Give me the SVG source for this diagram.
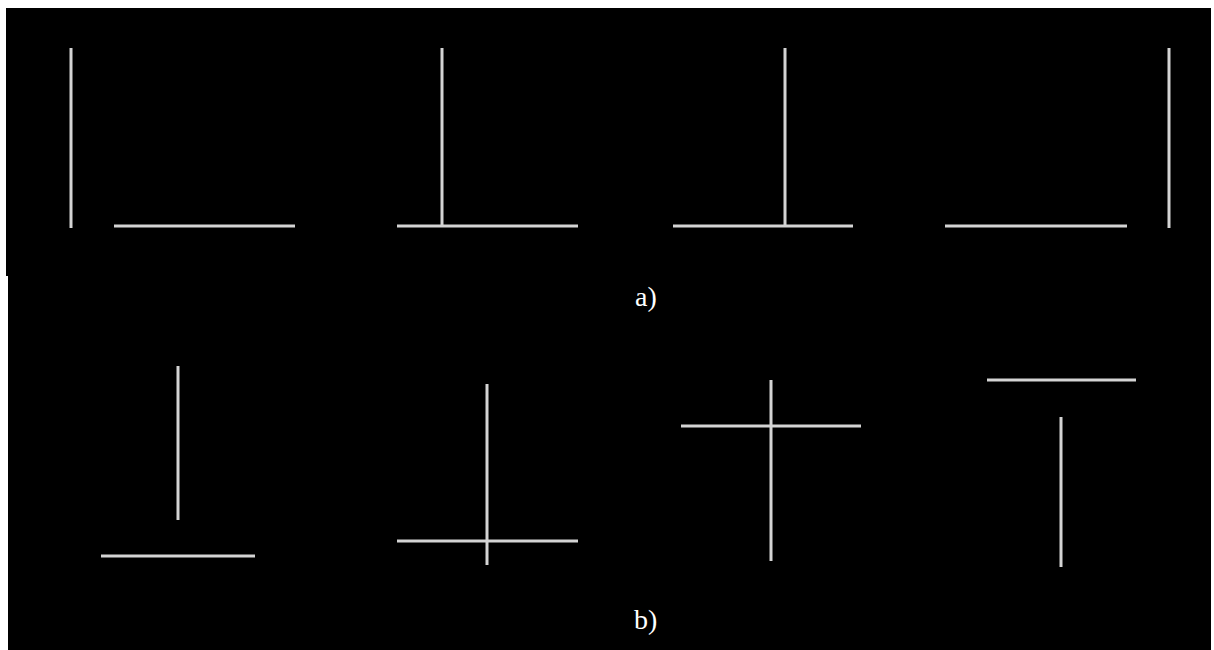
<svg xmlns="http://www.w3.org/2000/svg" width="1214" height="650" viewBox="0 0 1214 650">
<style>
.ln{stroke:#d4d4d4;stroke-width:3;fill:none}
.lbl{font-family:"Liberation Serif",serif;font-size:28px;fill:#ffffff}
</style>
<rect x="0" y="0" width="1214" height="650" fill="#ffffff"/>
<rect x="6" y="8" width="1205" height="268" fill="#000000"/>
<rect x="8" y="275" width="1203" height="375" fill="#000000"/>
<g id="connectors">
<g id="a1"><line class="ln" x1="71" y1="48" x2="71" y2="228"/><line class="ln" x1="114" y1="226" x2="295" y2="226"/></g>
<g id="a2"><line class="ln" x1="442" y1="48" x2="442" y2="226"/><line class="ln" x1="397" y1="226" x2="578" y2="226"/></g>
<g id="a3"><line class="ln" x1="785" y1="48" x2="785" y2="226"/><line class="ln" x1="673" y1="226" x2="853" y2="226"/></g>
<g id="a4"><line class="ln" x1="1169" y1="48" x2="1169" y2="228"/><line class="ln" x1="945" y1="226" x2="1127" y2="226"/></g>
<g id="b1"><line class="ln" x1="178" y1="366" x2="178" y2="520"/><line class="ln" x1="101" y1="556" x2="255" y2="556"/></g>
<g id="b2"><line class="ln" x1="487" y1="384" x2="487" y2="565"/><line class="ln" x1="397" y1="541" x2="578" y2="541"/></g>
<g id="b3"><line class="ln" x1="771" y1="380" x2="771" y2="561"/><line class="ln" x1="681" y1="426" x2="861" y2="426"/></g>
<g id="b4"><line class="ln" x1="987" y1="380" x2="1136" y2="380"/><line class="ln" x1="1061" y1="417" x2="1061" y2="567"/></g>
</g>
<g id="labels">
<text class="lbl" x="635" y="306">a)</text>
<text class="lbl" x="634" y="629">b)</text>
</g>
</svg>
